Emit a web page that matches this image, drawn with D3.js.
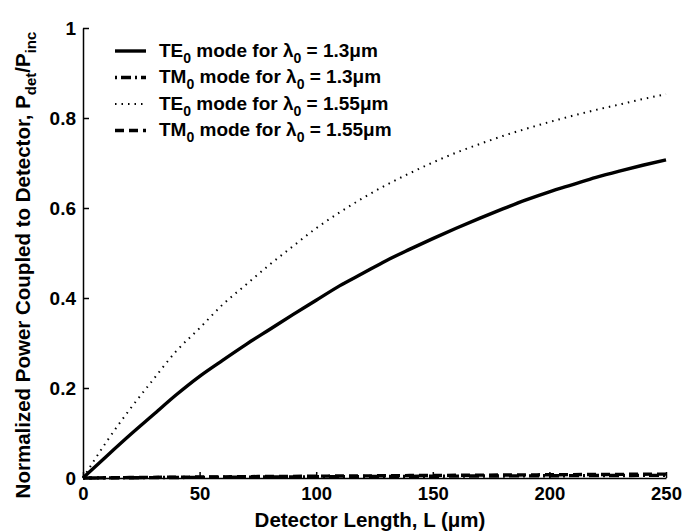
<!DOCTYPE html>
<html>
<head>
<meta charset="utf-8">
<script src="https://cdn.jsdelivr.net/npm/d3@7"></script>
<style>
  body { margin: 0; background: #fff; }
  text { font-family: "Liberation Sans", Arial, sans-serif; font-weight: bold; fill: #000; }
</style>
</head>
<body>
<div id="container"></div>
<script>
/** DATA */
const lengths = [0, 10, 20, 30, 40, 50, 60, 70, 80, 90, 100, 110, 120, 130, 140, 150, 160, 170, 180, 190, 200, 210, 220, 230, 240, 250];
const te13 = [0, 0.048, 0.095, 0.14, 0.185, 0.226, 0.262, 0.297, 0.33, 0.363, 0.395, 0.427, 0.455, 0.483, 0.508, 0.532, 0.555, 0.577, 0.598, 0.618, 0.636, 0.652, 0.668, 0.682, 0.695, 0.707];
const tm13 = [0, 0.0003, 0.0006, 0.0009, 0.0012, 0.0014, 0.0017, 0.002, 0.0022, 0.0025, 0.0027, 0.003, 0.0032, 0.0035, 0.0037, 0.0039, 0.0042, 0.0044, 0.0046, 0.0048, 0.005, 0.0052, 0.0054, 0.0056, 0.0058, 0.006];
const te155 = [0, 0.08, 0.152, 0.218, 0.282, 0.333, 0.386, 0.43, 0.474, 0.515, 0.555, 0.59, 0.622, 0.651, 0.677, 0.701, 0.723, 0.742, 0.76, 0.776, 0.791, 0.805, 0.818, 0.83, 0.842, 0.853];
const tm155 = [0, 0.0005, 0.001, 0.0014, 0.0018, 0.0022, 0.0026, 0.003, 0.0034, 0.0037, 0.0041, 0.0044, 0.0047, 0.005, 0.0054, 0.0057, 0.006, 0.0063, 0.0066, 0.0069, 0.0072, 0.0075, 0.0078, 0.0081, 0.0084, 0.0087];
const xTicks = [0, 50, 100, 150, 200, 250];
const yTicks = [0, 0.2, 0.4, 0.6, 0.8, 1];

const series = [
  { name: "TE", lam: "1.3", values: te13, dash: null, w: 3.4 },
  { name: "TM", lam: "1.3", values: tm13, dash: "2,4,10,4", w: 3.4 },
  { name: "TE", lam: "1.55", values: te155, dash: "1.5,5", w: 2 },
  { name: "TM", lam: "1.55", values: tm155, dash: "9,5", w: 3.4 }
];

/** CONSTANTS */
const width = 686, height = 531,
  margin = { top: 28, bottom: 53, left: 83, right: 20 };

const svg = d3.select("#container").append("svg")
  .attr("width", width).attr("height", height);

const x = d3.scaleLinear().domain([0, 250]).range([margin.left, width - margin.right]);
const y = d3.scaleLinear().domain([0, 1]).range([height - margin.bottom, margin.top]);

// axes, ticks inward
svg.append("g")
  .attr("transform", `translate(0,${y(0)})`)
  .call(d3.axisBottom(x).tickValues(xTicks).tickSizeInner(-6).tickSizeOuter(0).tickPadding(9).tickFormat(d3.format("d")))
  .call(g => g.selectAll("text").attr("font-size", 18.5).attr("dy", "0.71em"));

svg.append("g")
  .attr("transform", `translate(${x(0)},0)`)
  .call(d3.axisLeft(y).tickValues(yTicks).tickSizeInner(-6).tickSizeOuter(0).tickPadding(7).tickFormat(d => d === 0 || d === 1 ? d : d3.format(".1f")(d)))
  .call(g => g.selectAll("text").attr("font-size", 19));

svg.selectAll(".domain, .tick line").attr("stroke", "#000").attr("stroke-width", 1.5);
svg.selectAll(".tick text").attr("fill", "#000").attr("font-family", "Liberation Sans, Arial, sans-serif").attr("font-weight", "bold");

// lines
const line = d3.line()
  .x((d, i) => x(lengths[i]))
  .y(d => y(d))
  .curve(d3.curveMonotoneX);

svg.selectAll(".series")
  .data(series)
  .join("path")
  .attr("class", "series")
  .attr("fill", "none")
  .attr("stroke", "#000")
  .attr("stroke-width", d => d.w)
  .attr("stroke-dasharray", d => d.dash)
  .attr("d", d => line(d.values));

// legend
const legend = svg.append("g").attr("transform", "translate(115,50)");
series.forEach((s, i) => {
  const row = legend.append("g").attr("transform", `translate(0,${i * 26.5})`);
  row.append("line")
    .attr("x1", 0).attr("x2", 31).attr("y1", 1).attr("y2", 1)
    .attr("stroke", "#000").attr("stroke-width", s.w)
    .attr("stroke-dasharray", s.dash);
  const t = row.append("text").attr("x", 44).attr("y", 6.5).attr("font-size", 19);
  t.append("tspan").text(s.name);
  t.append("tspan").attr("font-size", 14).attr("dy", 6).text("0");
  t.append("tspan").attr("dy", -6).text(" mode for λ");
  t.append("tspan").attr("font-size", 14).attr("dy", 6).text("0");
  t.append("tspan").attr("dy", -6).text(` = ${s.lam}μm`);
});

// axis titles
svg.append("text")
  .attr("x", 370).attr("y", 527)
  .attr("text-anchor", "middle").attr("font-size", 20.5)
  .text("Detector Length, L (μm)");

const yt = svg.append("text")
  .attr("transform", `translate(30,${265}) rotate(-90)`)
  .attr("text-anchor", "middle").attr("font-size", 20.5);
yt.append("tspan").text("Normalized Power Coupled to Detector, P");
yt.append("tspan").attr("font-size", 15).attr("dy", 6).text("det");
yt.append("tspan").attr("dy", -6).text("/P");
yt.append("tspan").attr("font-size", 15).attr("dy", 6).text("inc");
</script>
</body>
</html>
